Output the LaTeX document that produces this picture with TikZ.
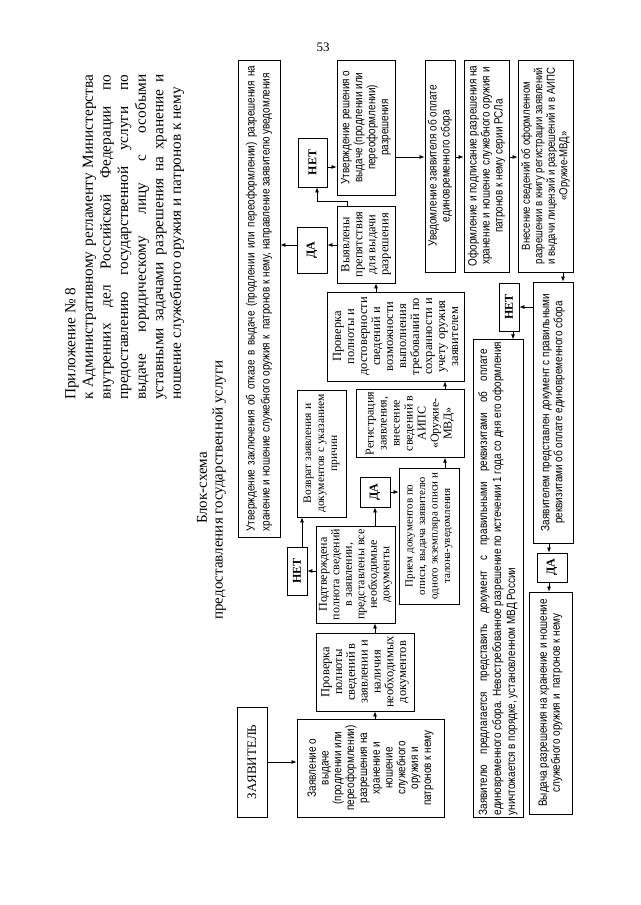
\documentclass[tikz,border=0pt]{standalone}
\usepackage{fontspec}
\setmainfont{Liberation Serif}
\newfontfamily\narrow[FakeStretch=0.83]{Liberation Sans}
\usetikzlibrary{arrows.meta,calc}
\begin{document}
\begin{tikzpicture}[x=1pt,y=1pt,
  box/.style={draw, line width=0.8pt, inner sep=2pt, align=center},
  sbox/.style={box, font=\fontsize{12}{12.8}\selectfont},
  nbox/.style={box, font=\narrow\fontsize{12}{12.8}\selectfont},
  yn/.style={box, font=\bfseries\fontsize{12}{14}\selectfont},
  arr/.style={-{Latex[length=5pt,width=4pt]}, line width=0.7pt}]
\useasboundingbox (0,0) rectangle (640,905);
\fill[white] (0,0) rectangle (640,905);
\node (pnum) at (323,858) {\fontsize{13}{15}\selectfont 53};
\begin{scope}[rotate=90, transform shape]
% header
\node[anchor=north west, inner sep=0pt, align=left,
      font=\fontsize{15.3}{17.6}\selectfont] (hdr) at (505,-65) {Приложение № 8\\
\hbox to 325pt{к\hfill Административному\hfill регламенту\hfill Министерства}\\
\hbox to 325pt{внутренних\hfill дел\hfill Российской\hfill Федерации\hfill по}\\
\hbox to 325pt{предоставлению\hfill государственной\hfill услуги\hfill по}\\
\hbox to 325pt{выдаче\hfill юридическому\hfill лицу\hfill с\hfill особыми}\\
\hbox to 325pt{уставными\hfill задачами\hfill разрешения\hfill на\hfill хранение\hfill и}\\
ношение служебного оружия и патронов к нему};
\node[font=\fontsize{15}{16}\selectfont] (bs) at (417,-202) {Блок-схема};
\node[font=\fontsize{15}{16}\selectfont] (bs2) at (415,-219) {предоставления государственной услуги};
% boxes
\node[box, font=\fontsize{13}{15}\selectfont, minimum width=110pt, minimum height=30pt] (zav) at (143,-252) {ЗАЯВИТЕЛЬ};
\node[nbox, minimum width=98pt, minimum height=147pt] (zayavl) at (137,-370.5)
 {Заявление о\\ выдаче\\ (продлении или\\ переоформлении)\\ разрешения на\\ хранение и\\ ношение\\ служебного\\ оружия и\\ патронов к нему};
\node[sbox, font=\fontsize{12.5}{12.8}\selectfont, minimum width=78pt, minimum height=98pt] (pr1) at (233,-365)
 {Проверка\\ полноты\\ сведений в\\ заявлении и\\ наличия\\ необходимых\\ документов};
\node[sbox, font=\fontsize{12}{12.5}\selectfont, minimum width=97pt, minimum height=79pt] (podtv) at (330.5,-355.5)
 {Подтверждена\\ полнота сведений\\ в заявлении,\\ представлены все\\ необходимые\\ документы};
\node[yn, minimum width=48pt, minimum height=20pt] (net1) at (334,-297) {НЕТ};
\node[sbox, font=\fontsize{11.5}{13}\selectfont, minimum width=127pt, minimum height=49pt] (vozvrat) at (451.5,-321.5)
 {Возврат заявления и\\ документов с указанием\\ причин};
\node[yn, minimum width=30pt, minimum height=30pt] (da1) at (413,-375) {ДА};
\node[sbox, font=\fontsize{11}{12.5}\selectfont, minimum width=136pt, minimum height=60pt] (priem) at (369,-429)
 {Прием документов по\\ описи, выдача заявителю\\ одного экземпляра описи и\\ талона-уведомления};
\node[sbox, font=\fontsize{12}{13}\selectfont, minimum width=67pt, minimum height=108pt] (registr) at (481.5,-410)
 {Регистрация\\ заявления,\\ внесение\\ сведений в\\ АИПС\\ «Оружие-\\ МВД»};
\node[sbox, font=\fontsize{12.5}{13}\selectfont, minimum width=89pt, minimum height=137pt] (pr2) at (568.5,-395.5)
 {Проверка\\ полноты и\\ достоверности\\ сведений и\\ возможности\\ выполнения\\ требований по\\ сохранности и\\ учету оружия\\ заявителем};
\node[sbox, font=\fontsize{12.5}{13}\selectfont, minimum width=77pt, minimum height=58pt] (vyyavl) at (660.5,-366)
 {Выявлены\\ препятствия\\ для выдачи\\ разрешения};
\node[yn, minimum width=46pt, minimum height=30pt] (da2) at (655,-312) {ДА};
\node[yn, minimum width=49pt, minimum height=29pt] (net2) at (742.5,-312.5) {НЕТ};
\node[nbox, font=\narrow\fontsize{12}{13}\selectfont, minimum width=135pt, minimum height=58pt] (utv) at (777.5,-366)
 {Утверждение решения о\\ выдаче (продлении или\\ переоформлении)\\ разрешения};
\node[nbox, font=\narrow\fontsize{12}{15}\selectfont, align=left, minimum width=477pt, minimum height=42pt] (otkaz) at (606.5,-259)
 {\hbox to 466pt{Утверждение\hfill заключения\hfill об\hfill отказе\hfill в\hfill выдаче\hfill (продлении\hfill или\hfill переоформлении)\hfill разрешения\hfill на}\\
 хранение и ношение служебного оружия к\ \ патронов к нему, направление заявителю уведомления};
\node[nbox, font=\narrow\fontsize{12}{13}\selectfont, minimum width=212pt, minimum height=30pt] (uved) at (739,-440)
 {Уведомление заявителя об оплате\\ единовременного сбора};
\node[nbox, font=\narrow\fontsize{12}{13}\selectfont, minimum width=212pt, minimum height=45pt] (oform) at (739,-486.5)
 {Оформление и подписание разрешения на\\ хранение и ношение служебного оружия и\\ патронов к нему серии РСЛа};
\node[nbox, font=\narrow\fontsize{11.6}{12.5}\selectfont, minimum width=212pt, minimum height=55pt] (vnes) at (739,-545.5)
 {Внесение сведений об оформленном\\ разрешении в книгу регистрации заявлений\\ и выдачи лицензий и разрешений и в АИПС\\ «Оружие-МВД»};
\node[nbox, font=\narrow\fontsize{12}{13}\selectfont, minimum width=261pt, minimum height=40pt] (zpred) at (492.5,-553)
 {Заявителем представлен документ с правильными\\ реквизитами об оплате единовременного сбора};
\node[yn, minimum width=48pt, minimum height=20pt] (net3) at (598,-509) {НЕТ};
\node[nbox, font=\narrow\fontsize{12}{14}\selectfont, align=left, minimum width=475pt, minimum height=50pt] (predlag) at (326.5,-498)
 {\hbox to 466pt{Заявителю\hfill предлагается\hfill представить\hfill документ\hfill с\hfill правильными\hfill реквизитами\hfill об\hfill оплате}\\
 единовременного сбора. Невостребованное разрешение по истечении 1 года со дня его оформления\\
 уничтожается в порядке, установленном МВД России};
\node[nbox, font=\narrow\fontsize{12}{13}\selectfont, minimum width=222pt, minimum height=43pt] (vyd) at (202,-550.5)
 {Выдача разрешения на хранение и ношение\\ служебного оружия и\ \ патронов к нему};
\node[yn, minimum width=29pt, minimum height=30pt] (da3) at (337.5,-552) {ДА};
% connectors
\draw[arr] (zav.south) -- (zav.south |- zayavl.north);
\draw[arr] (zayavl.east |- 0,-375) -- (pr1.west |- 0,-375);
\draw[arr] (pr1.east |- 0,-375) -- (podtv.west |- 0,-375);
\draw[arr] (podtv.north -| net1.south) -- (net1.south);
\draw[arr] (net1.east |- 0,-302) -- (vozvrat.west |- 0,-302);
\draw[arr] (podtv.east |- da1.west) -- (da1.west);
\draw[arr] (da1.south) -- (da1.south |- priem.north);
\draw[arr] (priem.east |- 0,-445) -- (registr.west |- 0,-445);
\draw[arr] (registr.east |- 0,-445) -- (pr2.west |- 0,-445);
\draw[arr] (pr2.east |- 0,-376) -- (vyyavl.west |- 0,-376);
\draw[arr] (vyyavl.north -| 660,0) -- (da2.south -| 660,0);
\draw[arr] (da2.north -| 660,0) -- (otkaz.south -| 660,0);
\draw[arr] (vyyavl.east |- 0,-347) -- ++(4,0) |- (net2.west |- 0,-317);
\draw[arr] (net2.south -| 738,0) -- (utv.north -| 738,0);
\draw[arr] (utv.south -| 748,0) -- (uved.north -| 748,0);
\draw[arr] (uved.south -| 748,0) -- (oform.north -| 748,0);
\draw[arr] (oform.south -| 748,0) -- (vnes.north -| 748,0);
\draw[arr] (vnes.west |- 0,-563) -- (zpred.east |- 0,-563);
\draw[arr] (zpred.north -| net3.south) -- (net3.south);
\draw[arr] (net3.west |- 0,-513) -- (predlag.east |- 0,-513);
\draw[arr] (zpred.west |- 0,-549) -- (da3.east |- 0,-549);
\draw[arr] (da3.west |- 0,-549) -- (vyd.east |- 0,-549);
\end{scope}
\end{tikzpicture}
\end{document}
